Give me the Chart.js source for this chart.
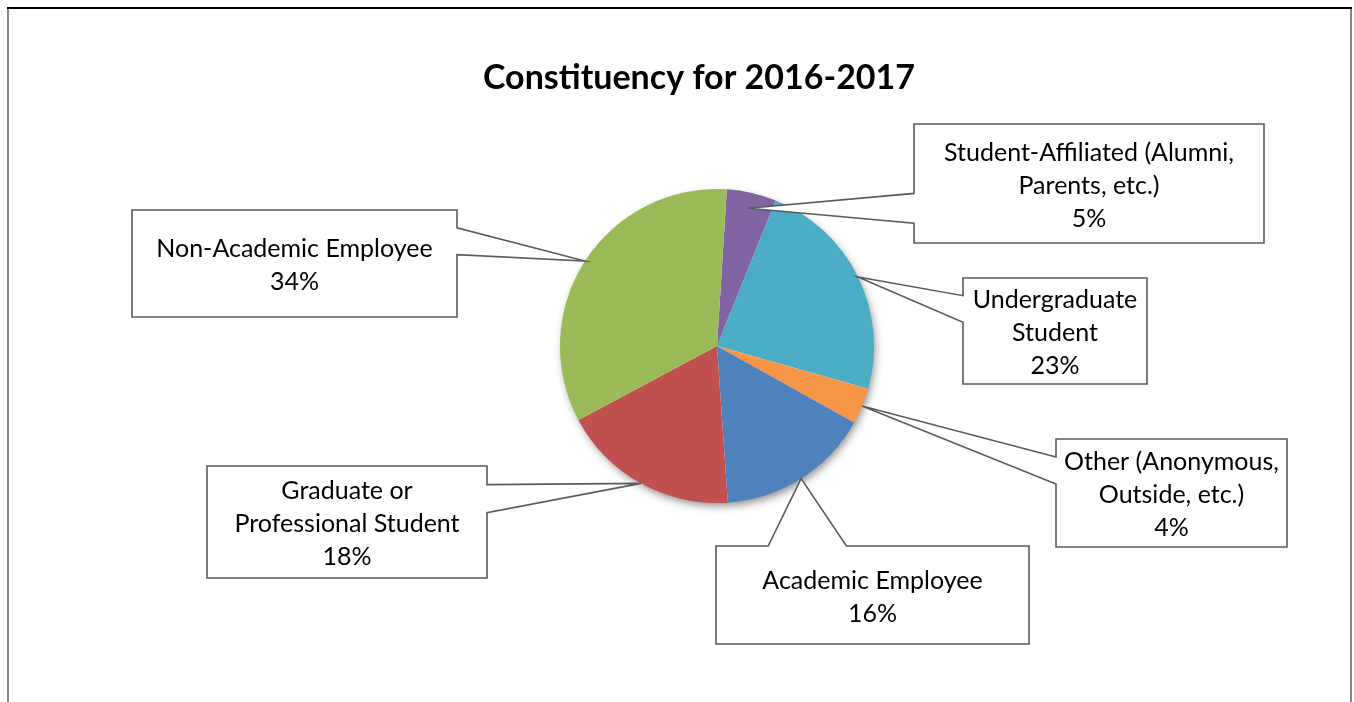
<!DOCTYPE html>
<html>
<head>
<meta charset="utf-8">
<title>Constituency for 2016-2017</title>
<script src="https://cdn.jsdelivr.net/npm/chart.js@4.4.1/dist/chart.umd.min.js"></script>
<style>
  html, body { margin: 0; padding: 0; background: #fff; overflow: hidden; }
  canvas { display: block; }
</style>
</head>
<body>
<canvas id="pieChart" width="1354" height="702"></canvas>
<script>
// data (order = clockwise from the top)
const chartTitle = 'Constituency for 2016-2017';
const categories = [
  ['Student-Affiliated (Alumni,', 'Parents, etc.)'],
  ['Undergraduate', 'Student'],
  ['Other (Anonymous,', 'Outside, etc.)'],
  ['Academic Employee'],
  ['Graduate or', 'Professional Student'],
  ['Non-Academic Employee']
];
const shares = [5.1, 23.3, 3.7, 15.8, 18.3, 33.8];
const sliceColors = ['#8064A2', '#4BACC6', '#F79646', '#4F81BD', '#C0504D', '#9BBB59'];

// layout of the callout boxes (left, top, right, bottom) and how deep the pointer goes
const calloutBoxes = [
  [914, 124, 1264, 243],
  [963, 278, 1147, 384],
  [1056, 439, 1287, 547],
  [716, 546, 1029, 644],
  [207, 466, 487, 578],
  [132, 210, 457, 317]
];
const tipDepth = [0.9, 1, 1, 1, 1, 1];

const labelFont = '25px Lato, "Open Sans", sans-serif';
const lineHeight = 33;

// frame around the chart + title
const framePlugin = {
  id: 'frame',
  beforeDraw(chart) {
    const ctx = chart.ctx;
    ctx.save();
    ctx.fillStyle = '#fff';
    ctx.fillRect(0, 0, chart.width, chart.height);
    ctx.lineWidth = 2;
    ctx.strokeStyle = '#868686';
    ctx.beginPath();
    ctx.moveTo(8, 9); ctx.lineTo(8, chart.height);
    ctx.moveTo(1351, 9); ctx.lineTo(1351, chart.height);
    ctx.stroke();
    ctx.strokeStyle = '#000';
    ctx.beginPath();
    ctx.moveTo(7, 8); ctx.lineTo(1352, 8);
    ctx.stroke();

    ctx.fillStyle = '#000';
    ctx.font = 'bold 34px Lato, "Open Sans", sans-serif';
    ctx.textAlign = 'center';
    ctx.textBaseline = 'alphabetic';
    ctx.fillText(chartTitle, 699, 89);
    ctx.restore();
  },
  // soft shadow under the pie
  beforeDatasetsDraw(chart) {
    const arc = chart.getDatasetMeta(0).data[0];
    if (!arc) return;
    const p = arc.getProps(['x', 'y', 'outerRadius'], true);
    const ctx = chart.ctx;
    ctx.save();
    ctx.shadowColor = 'rgba(0,0,0,0.45)';
    ctx.shadowBlur = 9;
    ctx.shadowOffsetX = 2;
    ctx.shadowOffsetY = 4;
    ctx.fillStyle = '#fff';
    ctx.beginPath();
    ctx.arc(p.x, p.y, p.outerRadius - 1, 0, Math.PI * 2);
    ctx.fill();
    ctx.restore();
  }
};

// Excel style rectangular callouts with a wedge pointing at the slice
function calloutPath(ctx, box, tip) {
  const [x1, y1, x2, y2] = box;
  const w = x2 - x1, h = y2 - y1;
  const hc = (x1 + x2) / 2, vc = (y1 + y2) / 2;
  const dx = tip.x - hc, dy = tip.y - vc;
  let side, b0, b1;
  if (Math.abs(dx) * h > Math.abs(dy) * w) {
    side = dx < 0 ? 'left' : 'right';
    b0 = dy < 0 ? y1 + h * 2 / 12 : y1 + h * 7 / 12;
    b1 = dy < 0 ? y1 + h * 5 / 12 : y1 + h * 10 / 12;
  } else {
    side = dy < 0 ? 'top' : 'bottom';
    b0 = dx < 0 ? x1 + w * 2 / 12 : x1 + w * 7 / 12;
    b1 = dx < 0 ? x1 + w * 5 / 12 : x1 + w * 10 / 12;
  }
  ctx.beginPath();
  ctx.moveTo(x1, y1);
  if (side === 'top') { ctx.lineTo(b0, y1); ctx.lineTo(tip.x, tip.y); ctx.lineTo(b1, y1); }
  ctx.lineTo(x2, y1);
  if (side === 'right') { ctx.lineTo(x2, b0); ctx.lineTo(tip.x, tip.y); ctx.lineTo(x2, b1); }
  ctx.lineTo(x2, y2);
  if (side === 'bottom') { ctx.lineTo(b1, y2); ctx.lineTo(tip.x, tip.y); ctx.lineTo(b0, y2); }
  ctx.lineTo(x1, y2);
  if (side === 'left') { ctx.lineTo(x1, b1); ctx.lineTo(tip.x, tip.y); ctx.lineTo(x1, b0); }
  ctx.closePath();
}

const calloutPlugin = {
  id: 'callouts',
  afterDatasetsDraw(chart) {
    const ctx = chart.ctx;
    const meta = chart.getDatasetMeta(0);
    const values = chart.data.datasets[0].data;
    const total = values.reduce((a, b) => a + b, 0);
    meta.data.forEach(function(arc, i) {
      const p = arc.getProps(['x', 'y', 'startAngle', 'endAngle', 'outerRadius'], true);
      const mid = (p.startAngle + p.endAngle) / 2;
      const r = p.outerRadius * tipDepth[i];
      const tip = { x: p.x + Math.cos(mid) * r, y: p.y + Math.sin(mid) * r };
      const box = calloutBoxes[i];

      ctx.save();
      calloutPath(ctx, box, tip);
      ctx.fillStyle = '#fff';
      ctx.fill();
      ctx.lineWidth = 1.6;
      ctx.strokeStyle = '#5b5b5b';
      ctx.lineJoin = 'miter';
      ctx.stroke();

      const lines = chart.data.labels[i].concat([Math.round(values[i] / total * 100) + '%']);
      const cx = (box[0] + box[2]) / 2;
      const cy = (box[1] + box[3]) / 2;
      const startY = cy - (lines.length - 1) * lineHeight / 2;
      ctx.fillStyle = '#000';
      ctx.font = labelFont;
      ctx.textAlign = 'center';
      ctx.textBaseline = 'alphabetic';
      lines.forEach(function(line, j) {
        ctx.fillText(line, cx, startY + j * lineHeight + 10);
      });
      ctx.restore();
    });
  }
};

var ctx = document.getElementById('pieChart').getContext('2d');
var pieChart = new Chart(ctx, {
  type: 'pie',
  data: {
    labels: categories,
    datasets: [{
      label: 'Constituency',
      data: shares,
      backgroundColor: sliceColors,
      borderWidth: 0
    }]
  },
  options: {
    responsive: false,
    animation: false,
    events: [],
    rotation: 3.6,
    layout: {
      padding: { left: 560, right: 480, top: 189, bottom: 199 }
    },
    plugins: {
      legend: { display: false },
      title: { display: false },
      tooltip: { enabled: false }
    }
  },
  plugins: [framePlugin, calloutPlugin]
});
</script>
</body>
</html>
